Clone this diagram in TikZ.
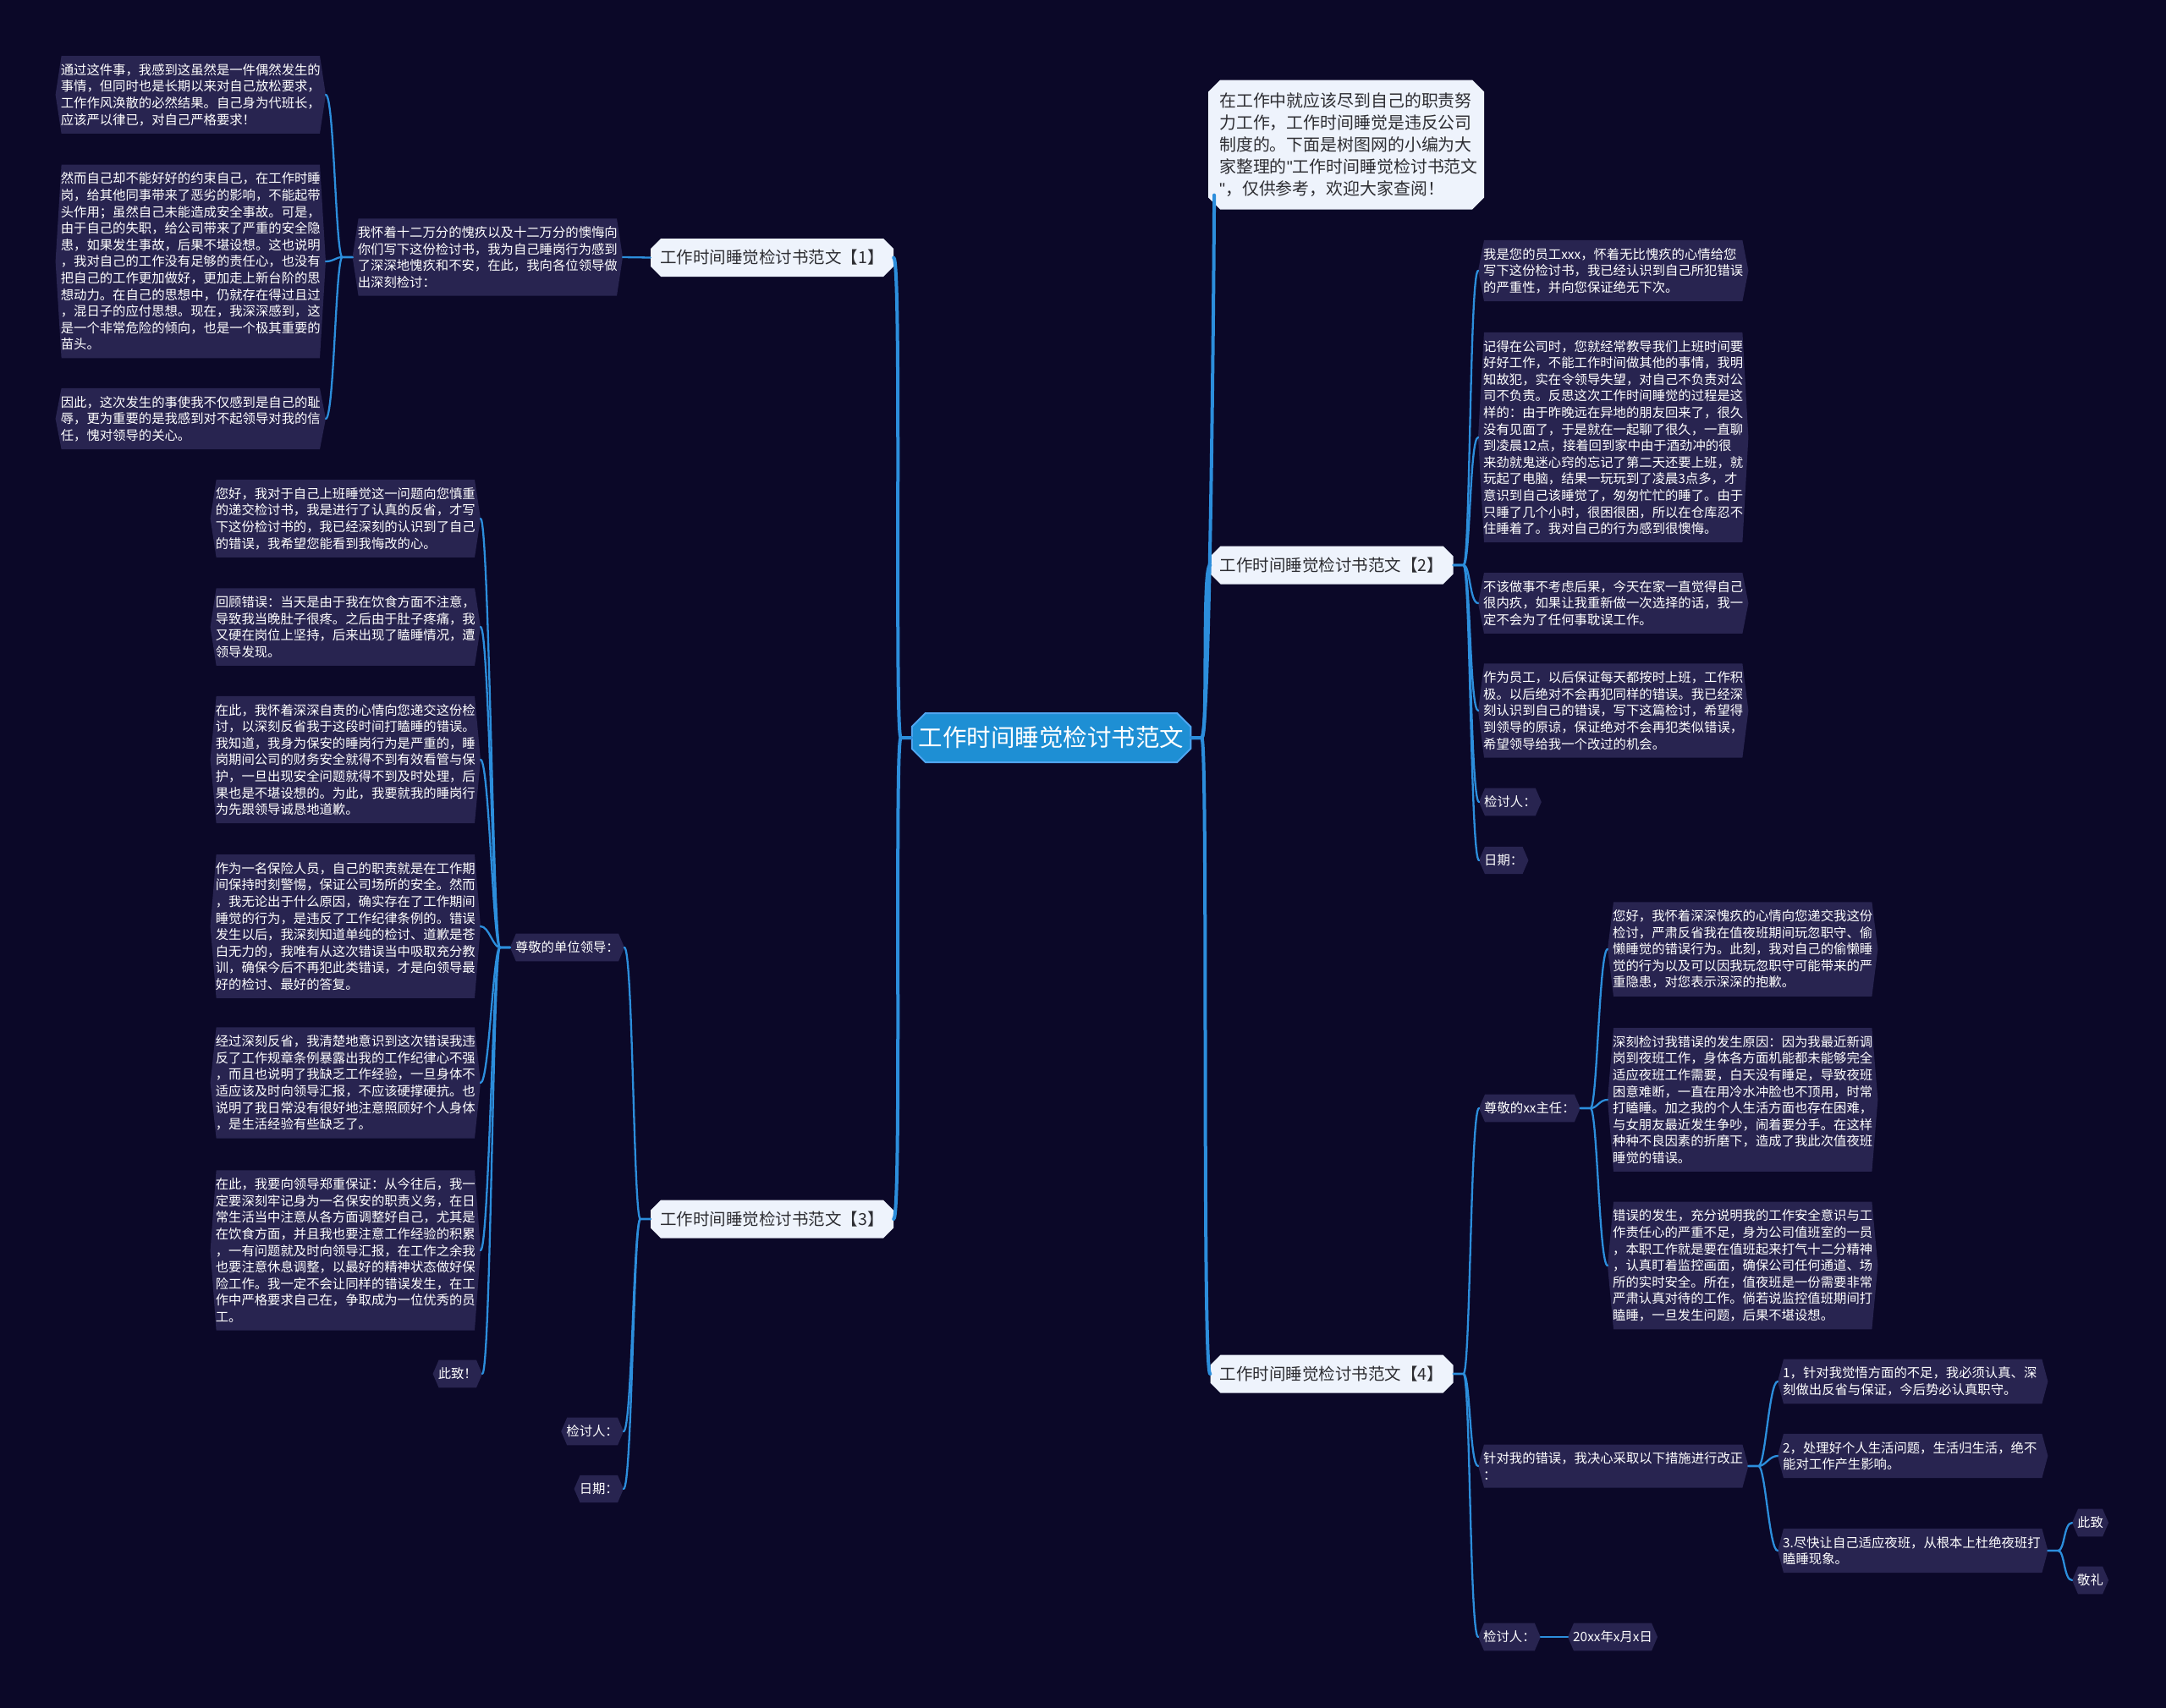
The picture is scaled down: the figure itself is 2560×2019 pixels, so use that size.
\documentclass[tikz,border=0pt]{standalone}
\usepackage{fontspec}
\setmainfont{Noto Sans CJK SC}
\usetikzlibrary{shapes.misc}
\pgfdeclarelayer{background}
\pgfsetlayers{background,main}
\definecolor{bgc}{RGB}{11,8,40}
\definecolor{leaffill}{RGB}{40,36,80}
\definecolor{hdrfill}{RGB}{238,243,252}
\definecolor{hdrtext}{RGB}{45,45,50}
\definecolor{cfill}{RGB}{30,143,212}
\definecolor{cborder}{RGB}{80,165,240}
\definecolor{linec}{RGB}{44,142,220}
\tikzset{
  leaf/.style={rectangle, text width=307pt, inner xsep=6pt, inner ysep=9pt, align=left, text=white, font=\fontsize{15.35}{19.6}\selectfont},
  tag/.style={rectangle, inner xsep=6pt, inner ysep=9pt, text=white, font=\fontsize{15.35}{19.6}\selectfont},
  hdr/.style={chamfered rectangle, chamfered rectangle xsep=6pt, chamfered rectangle ysep=6pt, fill=hdrfill, text=hdrtext, font=\fontsize{19.5}{23}\selectfont, minimum width=287pt, minimum height=45pt, inner sep=0pt},
  intro/.style={chamfered rectangle, chamfered rectangle xsep=7pt, chamfered rectangle ysep=7pt, fill=hdrfill, text=hdrtext, font=\fontsize{19.9}{26}\selectfont, text width=300pt, align=left, inner xsep=6pt, inner ysep=8pt},
  centre/.style={chamfered rectangle, chamfered rectangle xsep=8pt, chamfered rectangle ysep=8pt, fill=cfill, draw=cborder, line width=2pt, text=white, font=\fontsize{28.5}{34}\selectfont, minimum width=303pt, minimum height=58pt, inner sep=0pt},
  conn/.style={draw=linec, line width=2.3pt, line cap=round},
  mainconn/.style={draw=linec, line width=4pt, line cap=round},
  fanL/.style={to path={-- ++(-12,0) .. controls +(-8,0) and +(10,0) .. (\tikztotarget)}},
  fanR/.style={to path={-- ++(12,0) .. controls +(8,0) and +(-10,0) .. (\tikztotarget)}},
}
\begin{document}
\begin{tikzpicture}[x=1pt,y=-1pt]
\begin{pgfonlayer}{background}
\fill[bgc] (0,0) rectangle (2560,2019);
\end{pgfonlayer}
\useasboundingbox (0,0) rectangle (2560,2019);

% centre
\node[centre] (c) at (1242.5,872) {工作时间睡觉检讨书范文};

% intro
\node[intro, anchor=west] (intro) at (1428,171) {在工作中就应该尽到自己的职责努\\力工作，工作时间睡觉是违反公司\\制度的。下面是树图网的小编为大\\家整理的{\fontspec{Liberation Sans}"}工作时间睡觉检讨书范文\\{\fontspec{Liberation Sans}"}，仅供参考，欢迎大家查阅！};

% headers
\node[hdr] (b1) at (912.5,304.5) {工作时间睡觉检讨书范文【1】};
\node[hdr] (b3) at (912.5,1441) {工作时间睡觉检讨书范文【3】};
\node[hdr] (b2) at (1574,668) {工作时间睡觉检讨书范文【2】};
\node[hdr] (b4) at (1574,1624) {工作时间睡觉检讨书范文【4】};

% branch 1
\node[leaf, anchor=east] (k1) at (736,304) {我怀着十二万分的愧疚以及十二万分的懊悔向\\你们写下这份检讨书，我为自己睡岗行为感到\\了深深地愧疚和不安，在此，我向各位领导做\\出深刻检讨：};
\node[leaf, anchor=east] (l1a) at (385,112) {通过这件事，我感到这虽然是一件偶然发生的\\事情，但同时也是长期以来对自己放松要求，\\工作作风涣散的必然结果。自己身为代班长，\\应该严以律已，对自己严格要求！};
\node[leaf, anchor=east] (l1b) at (385,309) {然而自己却不能好好的约束自己，在工作时睡\\岗，给其他同事带来了恶劣的影响，不能起带\\头作用；虽然自己未能造成安全事故。可是，\\由于自己的失职，给公司带来了严重的安全隐\\患，如果发生事故，后果不堪设想。这也说明\\，我对自己的工作没有足够的责任心，也没有\\把自己的工作更加做好，更加走上新台阶的思\\想动力。在自己的思想中，仍就存在得过且过\\，混日子的应付思想。现在，我深深感到，这\\是一个非常危险的倾向，也是一个极其重要的\\苗头。};
\node[leaf, anchor=east] (l1c) at (385,495) {因此，这次发生的事使我不仅感到是自己的耻\\辱，更为重要的是我感到对不起领导对我的信\\任，愧对领导的关心。};

% branch 3
\node[tag, anchor=east] (k3) at (738,1120) {尊敬的单位领导：};
\node[tag, anchor=east] (k3b) at (737,1692) {检讨人：};
\node[tag, anchor=east] (k3c) at (737,1760) {日期：};
\node[leaf, anchor=east] (l3a) at (568,613) {您好，我对于自己上班睡觉这一问题向您慎重\\的递交检讨书，我是进行了认真的反省，才写\\下这份检讨书的，我已经深刻的认识到了自己\\的错误，我希望您能看到我悔改的心。};
\node[leaf, anchor=east] (l3b) at (568,741) {回顾错误：当天是由于我在饮食方面不注意，\\导致我当晚肚子很疼。之后由于肚子疼痛，我\\又硬在岗位上坚持，后来出现了瞌睡情况，遭\\领导发现。};
\node[leaf, anchor=east] (l3c) at (568,898) {在此，我怀着深深自责的心情向您递交这份检\\讨，以深刻反省我于这段时间打瞌睡的错误。\\我知道，我身为保安的睡岗行为是严重的，睡\\岗期间公司的财务安全就得不到有效看管与保\\护，一旦出现安全问题就得不到及时处理，后\\果也是不堪设想的。为此，我要就我的睡岗行\\为先跟领导诚恳地道歉。};
\node[leaf, anchor=east] (l3d) at (568,1095) {作为一名保险人员，自己的职责就是在工作期\\间保持时刻警惕，保证公司场所的安全。然而\\，我无论出于什么原因，确实存在了工作期间\\睡觉的行为，是违反了工作纪律条例的。错误\\发生以后，我深刻知道单纯的检讨、道歉是苍\\白无力的，我唯有从这次错误当中吸取充分教\\训，确保今后不再犯此类错误，才是向领导最\\好的检讨、最好的答复。};
\node[leaf, anchor=east] (l3e) at (568,1280) {经过深刻反省，我清楚地意识到这次错误我违\\反了工作规章条例暴露出我的工作纪律心不强\\，而且也说明了我缺乏工作经验，一旦身体不\\适应该及时向领导汇报，不应该硬撑硬抗。也\\说明了我日常没有很好地注意照顾好个人身体\\，是生活经验有些缺乏了。};
\node[leaf, anchor=east] (l3f) at (568,1478) {在此，我要向领导郑重保证：从今往后，我一\\定要深刻牢记身为一名保安的职责义务，在日\\常生活当中注意从各方面调整好自己，尤其是\\在饮食方面，并且我也要注意工作经验的积累\\，一有问题就及时向领导汇报，在工作之余我\\也要注意休息调整，以最好的精神状态做好保\\险工作。我一定不会让同样的错误发生，在工\\作中严格要求自己在，争取成为一位优秀的员\\工。};
\node[tag, anchor=east] (l3g) at (570,1624) {此致！};

% branch 2
\node[leaf, anchor=west] (l2a) at (1747,320) {我是您的员工xxx，怀着无比愧疚的心情给您\\写下这份检讨书，我已经认识到自己所犯错误\\的严重性，并向您保证绝无下次。};
\node[leaf, anchor=west] (l2b) at (1747,517) {记得在公司时，您就经常教导我们上班时间要\\好好工作，不能工作时间做其他的事情，我明\\知故犯，实在令领导失望，对自己不负责对公\\司不负责。反思这次工作时间睡觉的过程是这\\样的：由于昨晚远在异地的朋友回来了，很久\\没有见面了，于是就在一起聊了很久，一直聊\\到凌晨12点，接着回到家中由于酒劲冲的很\\来劲就鬼迷心窍的忘记了第二天还要上班，就\\玩起了电脑，结果一玩玩到了凌晨3点多，才\\意识到自己该睡觉了，匆匆忙忙的睡了。由于\\只睡了几个小时，很困很困，所以在仓库忍不\\住睡着了。我对自己的行为感到很懊悔。};
\node[leaf, anchor=west] (l2c) at (1747,713) {不该做事不考虑后果，今天在家一直觉得自己\\很内疚，如果让我重新做一次选择的话，我一\\定不会为了任何事耽误工作。};
\node[leaf, anchor=west] (l2d) at (1747,840) {作为员工，以后保证每天都按时上班，工作积\\极。以后绝对不会再犯同样的错误。我已经深\\刻认识到自己的错误，写下这篇检讨，希望得\\到领导的原谅，保证绝对不会再犯类似错误，\\希望领导给我一个改过的机会。};
\node[tag, anchor=west] (l2e) at (1748,948) {检讨人：};
\node[tag, anchor=west] (l2f) at (1748,1017) {日期：};

% branch 4
\node[tag, anchor=west] (k4a) at (1748,1310) {尊敬的xx主任：};
\node[leaf, anchor=west] (l4a) at (1900,1122) {您好，我怀着深深愧疚的心情向您递交我这份\\检讨，严肃反省我在值夜班期间玩忽职守、偷\\懒睡觉的错误行为。此刻，我对自己的偷懒睡\\觉的行为以及可以因我玩忽职守可能带来的严\\重隐患，对您表示深深的抱歉。};
\node[leaf, anchor=west] (l4b) at (1900,1300) {深刻检讨我错误的发生原因：因为我最近新调\\岗到夜班工作，身体各方面机能都未能够完全\\适应夜班工作需要，白天没有睡足，导致夜班\\困意难断，一直在用冷水冲脸也不顶用，时常\\打瞌睡。加之我的个人生活方面也存在困难，\\与女朋友最近发生争吵，闹着要分手。在这样\\种种不良因素的折磨下，造成了我此次值夜班\\睡觉的错误。};
\node[leaf, anchor=west] (l4c) at (1900,1496) {错误的发生，充分说明我的工作安全意识与工\\作责任心的严重不足，身为公司值班室的一员\\，本职工作就是要在值班起来打气十二分精神\\，认真盯着监控画面，确保公司任何通道、场\\所的实时安全。所在，值夜班是一份需要非常\\严肃认真对待的工作。倘若说监控值班期间打\\瞌睡，一旦发生问题，后果不堪设想。};
\node[leaf, anchor=west] (k4b) at (1747,1733) {针对我的错误，我决心采取以下措施进行改正\\：};
\node[leaf, anchor=west] (m1) at (2101,1633) {1，针对我觉悟方面的不足，我必须认真、深\\刻做出反省与保证，今后势必认真职守。};
\node[leaf, anchor=west] (m2) at (2101,1721) {2，处理好个人生活问题，生活归生活，绝不\\能对工作产生影响。};
\node[leaf, anchor=west] (m3) at (2101,1833) {3.尽快让自己适应夜班，从根本上杜绝夜班打\\瞌睡现象。};
\node[tag, anchor=west] (n1) at (2449,1800) {此致};
\node[tag, anchor=west] (n2) at (2449,1868) {敬礼};
\node[tag, anchor=west] (k4c) at (1747,1935) {检讨人：};
\node[tag, anchor=west] (k4d) at (1853,1935) {20xx年x月x日};

% hexagon backgrounds
\begin{pgfonlayer}{background}
\foreach \n in {k1,l1a,l1b,l1c,k3,k3b,k3c,l3a,l3b,l3c,l3d,l3e,l3f,l3g,l2a,l2b,l2c,l2d,l2e,l2f,k4a,l4a,l4b,l4c,k4b,m1,m2,m3,n1,n2,k4c,k4d}{
  \fill[leaffill] ([xshift=7pt]\n.north west) -- ([xshift=-7pt]\n.north east) -- (\n.east) -- ([xshift=-7pt]\n.south east) -- ([xshift=7pt]\n.south west) -- (\n.west) -- cycle;
}
\end{pgfonlayer}

% main connectors
\draw[mainconn] (c.west) to[fanL] (b1.east);
\draw[mainconn] (c.west) to[fanL] (b3.east);
\draw[mainconn] (c.east) to[fanR] (b2.west);
\draw[mainconn] (c.east) to[fanR] (b4.west);
\draw[mainconn] (c.east) -- ++(12,0) .. controls +(10,0) and +(0,60) .. ([yshift=10pt]intro.south west);

% branch 1
\draw[conn] (b1.west) -- (k1.east);
\foreach \t in {l1a,l1b,l1c} \draw[conn] (k1.west) to[fanL] (\t.east);
% branch 3
\foreach \t in {k3,k3b,k3c} \draw[conn] (b3.west) to[fanL] (\t.east);
\foreach \t in {l3a,l3b,l3c,l3d,l3e,l3f,l3g} \draw[conn] (k3.west) to[fanL] (\t.east);
% branch 2
\foreach \t in {l2a,l2b,l2c,l2d,l2e,l2f} \draw[conn] (b2.east) to[fanR] (\t.west);
% branch 4
\foreach \t in {k4a,k4b,k4c} \draw[conn] (b4.east) to[fanR] (\t.west);
\foreach \t in {l4a,l4b,l4c} \draw[conn] (k4a.east) to[fanR] (\t.west);
\foreach \t in {m1,m2,m3} \draw[conn] (k4b.east) to[fanR] (\t.west);
\foreach \t in {n1,n2} \draw[conn] (m3.east) to[fanR] (\t.west);
\draw[conn] (k4c.east) -- (k4d.west);
\end{tikzpicture}
\end{document}
